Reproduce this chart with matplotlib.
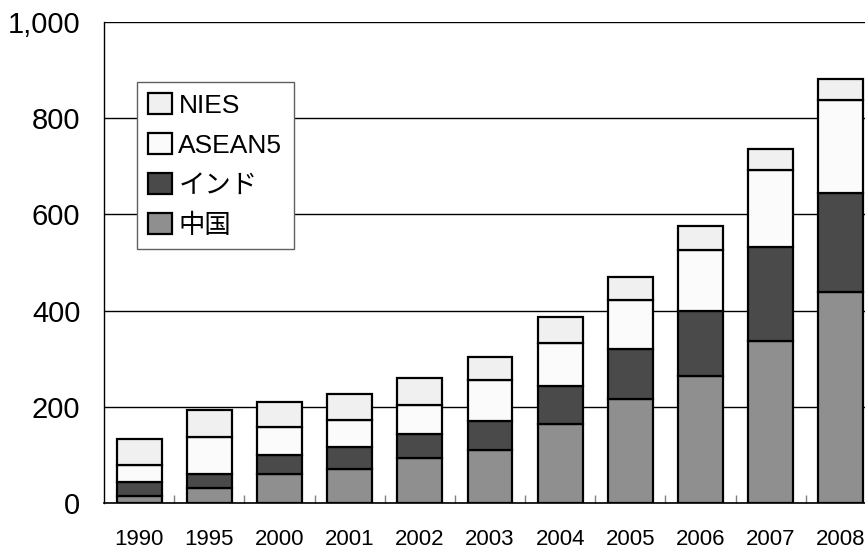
import matplotlib
matplotlib.use("Agg")
import matplotlib.pyplot as plt
import numpy as np
from matplotlib.ticker import FixedLocator, FuncFormatter

years = ["1990", "1995", "2000", "2001", "2002", "2003", "2004", "2005", "2006", "2007", "2008"]
china = [15, 32, 60, 70, 94, 110, 165, 216, 265, 337, 438]
india = [28, 28, 39, 46, 50, 60, 78, 105, 134, 195, 206]
asean5 = [35, 78, 60, 56, 60, 85, 89, 101, 128, 161, 193]
nies = [55, 55, 52, 54, 56, 49, 55, 47, 49, 44, 44]

series = [("中国", china, "#8f8f8f"),
          ("インド", india, "#4a4a4a"),
          ("ASEAN5", asean5, "#fbfbfb"),
          ("NIES", nies, "#f0f0f0")]

plt.rcParams['font.family'] = ['Liberation Sans', 'Noto Sans CJK JP', 'DejaVu Sans']

W, H = 865, 549
fig = plt.figure(figsize=(W / 100, H / 100), dpi=100)
ax = fig.add_axes([104 / W, (H - 503) / H, (876 - 104) / W, (503 - 22) / H])

x = np.arange(len(years))
bottom = np.zeros(len(years))
handles = {}
for name, vals, col in series:
    v = np.array(vals, dtype=float)
    b = ax.bar(x, v, bottom=bottom, width=0.64, color=col, edgecolor="black",
               linewidth=1.6, zorder=3, label=name)
    handles[name] = b
    bottom += v

ax.set_xlim(-0.5, len(years) - 0.5)
ax.set_ylim(0, 1000)
ax.set_yticks([0, 200, 400, 600, 800, 1000])
ax.yaxis.set_major_formatter(FuncFormatter(lambda v, p: f"{int(v):,}"))
ax.tick_params(axis="y", length=0, pad=17, labelsize=21)
ax.grid(axis="y", color="black", linewidth=1.0, zorder=0)

ax.set_xticks(x)
ax.set_xticklabels(years)
ax.tick_params(axis="x", which="major", length=0, pad=19, labelsize=16)
ax.xaxis.set_minor_locator(FixedLocator(x[:-1] + 0.5))
ax.tick_params(axis="x", which="minor", direction="in", length=6, width=1.0, color="#808080")

for s in ["top", "right"]:
    ax.spines[s].set_visible(False)
ax.spines["left"].set_linewidth(1.0)
ax.spines["bottom"].set_linewidth(1.2)

order = ["NIES", "ASEAN5", "インド", "中国"]
leg = ax.legend([handles[n] for n in order], order,
                loc="upper left",
                bbox_to_anchor=(137 / W, (H - 82) / H), bbox_transform=fig.transFigure,
                frameon=True, fancybox=False, framealpha=1, edgecolor="#606060",
                prop={"family": ['Liberation Sans', 'Noto Sans CJK JP', 'DejaVu Sans'], "size": 19},
                handlelength=0.9, handleheight=0.85, handletextpad=0.25,
                labelspacing=0.58, borderpad=0.42, borderaxespad=0)
leg.get_frame().set_linewidth(1.0)
leg.set_zorder(5)

fig.savefig("out.png", dpi=100)
